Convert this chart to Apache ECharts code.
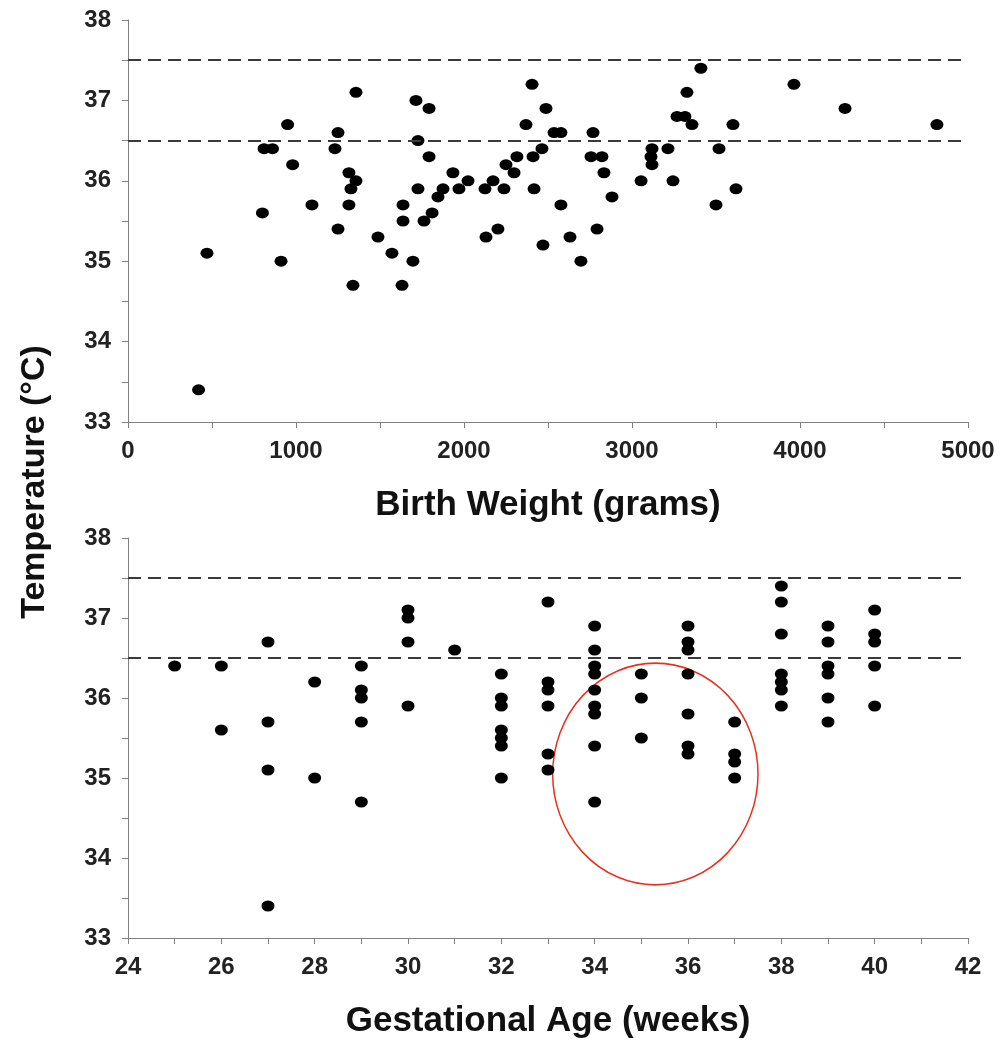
<!DOCTYPE html>
<html>
<head>
<meta charset="utf-8">
<script src="https://cdn.jsdelivr.net/npm/echarts@6/dist/echarts.min.js"></script>
<style>
  html, body { margin: 0; padding: 0; background: #fff; }
  #main { width: 1004px; height: 1041px; }
</style>
</head>
<body>
<div id="main"></div>
<script>
// top panel: birth weight vs temperature
let birthWeight = [420, 470, 800, 810, 860, 911, 950, 980, 1095, 1232, 1250, 1250, 1315, 1315, 1327, 1339, 1357, 1357,
    1488, 1571, 1631, 1637, 1637, 1696, 1714, 1726, 1726, 1762, 1792, 1792, 1810, 1845, 1875, 1934, 1970, 2024,
    2125, 2131, 2173, 2202, 2238, 2250, 2298, 2315, 2369, 2405, 2411, 2417, 2464, 2470, 2488, 2536, 2577, 2577,
    2631, 2696, 2756, 2768, 2792, 2821, 2833, 2881, 3054, 3113, 3119, 3119, 3214, 3244, 3268, 3315, 3327, 3357,
    3410, 3500, 3518, 3601, 3619, 3964, 4268, 4815];
let tempByWeight = [33.4, 35.1, 35.6, 36.4, 36.4, 35.0, 36.7, 36.2, 35.7, 36.4, 36.6, 35.4, 35.7, 36.1, 35.9, 34.7, 36.0, 37.1,
    35.3, 35.1, 34.7, 35.7, 35.5, 35.0, 37.0, 36.5, 35.9, 35.5, 36.9, 36.3, 35.6, 35.8, 35.9, 36.1, 35.9, 36.0,
    35.9, 35.3, 36.0, 35.4, 35.9, 36.2, 36.1, 36.3, 36.7, 37.2, 36.3, 35.9, 36.4, 35.2, 36.9, 36.6, 36.6, 35.7,
    35.3, 35.0, 36.3, 36.6, 35.4, 36.3, 36.1, 35.8, 36.0, 36.3, 36.4, 36.2, 36.4, 36.0, 36.8, 36.8, 37.1, 36.7,
    37.4, 35.7, 36.4, 36.7, 35.9, 37.2, 36.9, 36.7];

// bottom panel: gestational age vs temperature
let gestWeeks = [25, 26, 26, 27, 27, 27, 27, 28, 28, 29, 29, 29, 29, 29, 30, 30, 30, 30, 31,
    32, 32, 32, 32, 32, 32, 32, 33, 33, 33, 33, 33, 33,
    34, 34, 34, 34, 34, 34, 34, 34, 34, 35, 35, 35, 36, 36, 36, 36, 36, 36, 36,
    37, 37, 37, 37, 38, 38, 38, 38, 38, 38, 38, 39, 39, 39, 39, 39, 39, 40, 40, 40, 40, 40];
let tempByWeeks = [36.4, 36.4, 35.6, 36.7, 35.7, 35.1, 33.4, 36.2, 35.0, 36.4, 36.1, 36.0, 35.7, 34.7, 37.1, 37.0, 36.7, 35.9, 36.6,
    36.3, 36.0, 35.9, 35.6, 35.5, 35.4, 35.0, 37.2, 36.2, 36.1, 35.9, 35.3, 35.1,
    36.9, 36.6, 36.4, 36.3, 36.1, 35.9, 35.8, 35.4, 34.7, 36.3, 36.0, 35.5, 36.9, 36.7, 36.6, 36.3, 35.8, 35.4, 35.3,
    35.7, 35.3, 35.2, 35.0, 37.4, 37.2, 36.8, 36.3, 36.2, 36.1, 35.9, 36.9, 36.7, 36.4, 36.3, 36.0, 35.7, 37.1, 36.8, 36.7, 36.4, 35.9];

// normal range limits (dashed lines)
let limitLines = [37.5, 36.5];

const FONT = "'Liberation Sans', Arial, sans-serif";

function zip(xs, ys) {
    let out = [];
    for (let i = 0; i < xs.length; i++) out.push([xs[i], ys[i]]);
    return out;
}

function valueAxis(idx, min, max, interval, name) {
    return {
        type: 'value',
        gridIndex: idx,
        min: min,
        max: max,
        interval: interval,
        name: name,
        nameLocation: 'middle',
        nameGap: 66,
        nameTextStyle: { fontFamily: FONT, fontWeight: 'bold', fontSize: 35, color: '#111' },
        axisLine: { show: true, onZero: false, lineStyle: { color: '#808080', width: 1 } },
        axisTick: { show: true, length: 6, lineStyle: { color: '#808080' } },
        minorTick: { show: true, splitNumber: 2, length: 6, lineStyle: { color: '#808080' } },
        splitLine: { show: false },
        minorSplitLine: { show: false },
        axisLabel: {
            fontFamily: FONT, fontWeight: 'bold', fontSize: 24, color: '#222', margin: 17,
            formatter: v => String(v)   // no thousands separators
        }
    };
}

function scatterSeries(idx, data) {
    return {
        type: 'scatter',
        xAxisIndex: idx,
        yAxisIndex: idx,
        data: data,
        symbol: 'circle',
        symbolSize: [13, 11],
        itemStyle: { color: '#000', opacity: 1 },
        silent: true,
        markLine: {
            silent: true,
            symbol: ['none', 'none'],
            label: { show: false },
            lineStyle: { color: '#3a3a3a', type: [13, 7], width: 2 },
            data: limitLines.map(v => ({ yAxis: v }))
        }
    };
}

let myChart = echarts.init(document.getElementById('main'), null, { renderer: 'canvas' });

let option = {
    backgroundColor: '#fff',
    animation: false,
    grid: [
        { left: 128, top: 20, width: 840, height: 402 },
        { left: 128, top: 538, width: 840, height: 400 }
    ],
    xAxis: [
        valueAxis(0, 0, 5000, 1000, 'Birth Weight (grams)'),
        valueAxis(1, 24, 42, 2, 'Gestational Age (weeks)')
    ],
    yAxis: [
        Object.assign(valueAxis(0, 33, 38, 1, ''), { name: '' }),
        Object.assign(valueAxis(1, 33, 38, 1, ''), { name: '' })
    ],
    series: [
        scatterSeries(0, zip(birthWeight, tempByWeight)),
        scatterSeries(1, zip(gestWeeks, tempByWeeks))
    ]
};
myChart.setOption(option);

// shared y-axis title and the red highlight ellipse on the lower panel
let c = myChart.convertToPixel({ gridIndex: 1 }, [35.3, 35.05]);
let r = myChart.convertToPixel({ gridIndex: 1 }, [37.5, 35.05]);
let rx = r[0] - c[0];
myChart.setOption({
    graphic: [
        {
            type: 'text',
            x: 35,
            y: 482,
            rotation: Math.PI / 2,
            style: {
                text: 'Temperature (°C)',
                fontFamily: FONT,
                fontWeight: 'bold',
                fontSize: 34,
                fill: '#111',
                textAlign: 'center',
                textVerticalAlign: 'middle'
            }
        },
        {
            type: 'circle',
            x: c[0],
            y: c[1],
            scaleY: 1.08,
            shape: { cx: 0, cy: 0, r: rx },
            style: { fill: 'none', stroke: '#e8301c', lineWidth: 1.5 },
            silent: true
        }
    ]
});
</script>
</body>
</html>
